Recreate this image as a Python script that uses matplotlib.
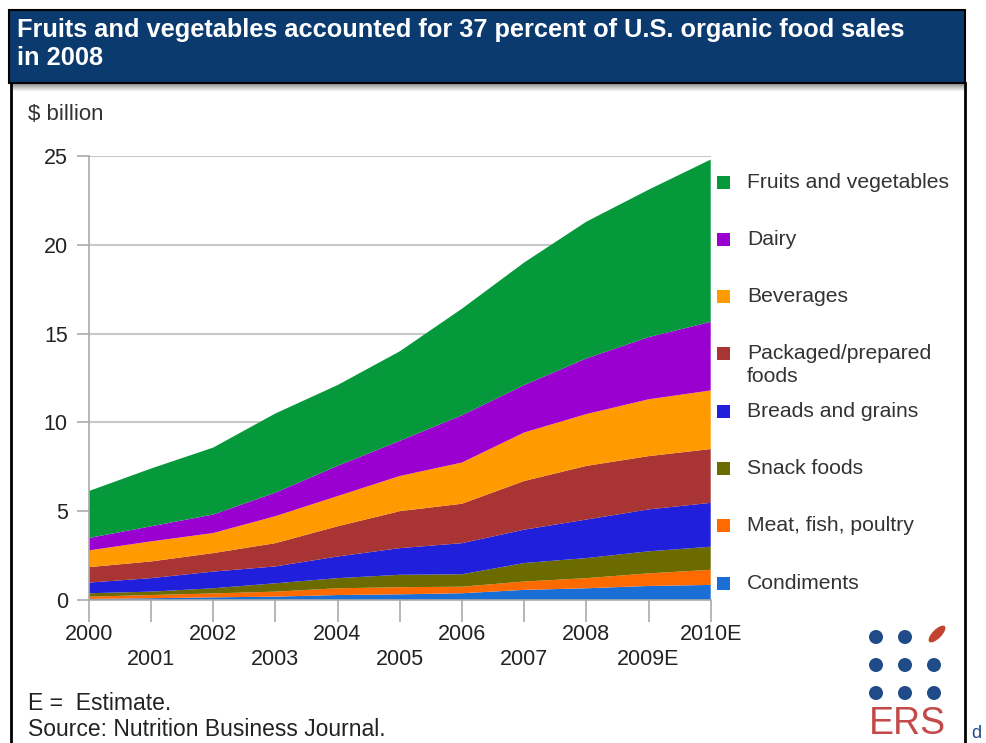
import matplotlib
matplotlib.use("Agg")
import matplotlib.pyplot as plt
from matplotlib.patches import Rectangle, Circle, Ellipse

plt.rcParams["font.family"] = ["Liberation Sans", "DejaVu Sans"]

# organic food sales, $ billion (stacked bottom to top)
years = [2000, 2001, 2002, 2003, 2004, 2005, 2006, 2007, 2008, 2009, 2010]
year_labels = ["2000", "2001", "2002", "2003", "2004", "2005",
               "2006", "2007", "2008", "2009E", "2010E"]

condiments = [0.06, 0.10, 0.15, 0.19, 0.28, 0.32, 0.38, 0.57, 0.66, 0.79, 0.85]
meat_fish_poultry = [0.13, 0.18, 0.22, 0.28, 0.38, 0.40, 0.37, 0.47, 0.57, 0.71, 0.85]
snack_foods = [0.19, 0.19, 0.29, 0.47, 0.57, 0.70, 0.70, 1.04, 1.13, 1.24, 1.30]
breads_grains = [0.60, 0.76, 0.94, 0.95, 1.22, 1.50, 1.75, 1.88, 2.17, 2.36, 2.47]
packaged_foods = [0.87, 0.94, 1.04, 1.31, 1.70, 2.08, 2.22, 2.74, 3.02, 3.00, 3.03]
beverages = [0.94, 1.13, 1.13, 1.52, 1.70, 1.98, 2.32, 2.73, 2.92, 3.20, 3.30]
dairy = [0.70, 0.85, 1.04, 1.32, 1.70, 1.98, 2.66, 2.67, 3.13, 3.50, 3.86]
fruits_vegetables = [2.64, 3.25, 3.77, 4.46, 4.55, 5.04, 6.00, 6.90, 7.70, 8.30, 9.14]

series = [condiments, meat_fish_poultry, snack_foods, breads_grains,
          packaged_foods, beverages, dairy, fruits_vegetables]
names = ["Condiments", "Meat, fish, poultry", "Snack foods", "Breads and grains",
         "Packaged/prepared\nfoods", "Beverages", "Dairy", "Fruits and vegetables"]
colors = ["#1a6fd6", "#ff6a00", "#6b6b00", "#2020dc",
          "#a83434", "#ff9a00", "#9a00d0", "#06993c"]

W, H = 987, 743
fig = plt.figure(figsize=(W / 100, H / 100), dpi=100)

# background layer in pixel coordinates
bg = fig.add_axes([0, 0, 1, 1])
bg.set_xlim(0, W)
bg.set_ylim(H, 0)
bg.axis("off")

bg.add_patch(Rectangle((9, 10), 956, 73, fc="#0b3a6f", ec="black", lw=1.5))
for i in range(8):
    bg.add_patch(Rectangle((11, 83 + i), 953, 1, fc="black", ec="none",
                           alpha=0.45 * (1 - i / 8)))
bg.plot([11, 11], [83, H], color="black", lw=2)
bg.plot([965, 965], [83, H], color="black", lw=2)

bg.text(17, 30, "Fruits and vegetables accounted for 37 percent of U.S. organic food sales",
        color="white", fontsize=18.3, fontweight="bold", va="center")
bg.text(17, 58, "in 2008", color="white", fontsize=18.3, fontweight="bold", va="center")
bg.text(28, 115, "$ billion", fontsize=16, color="#333333", va="center")

bg.text(28, 704, "E =  Estimate.", fontsize=16.5, color="#222222", va="center")
bg.text(28, 729, "Source: Nutrition Business Journal.", fontsize=16.5,
        color="#222222", va="center")

# legend, top entry first
for i, (name, col) in enumerate(zip(names[::-1], colors[::-1])):
    yc = 182 + 57.3 * i
    bg.add_patch(Rectangle((717, yc - 6.5), 13, 13, fc=col, ec="none"))
    for k, line in enumerate(name.split("\n")):
        bg.text(747, yc + 23 * k, line, fontsize=15.2, color="#333333", va="center")

# ERS logo
for r, yy in enumerate([637, 665, 693]):
    for c, xx in enumerate([876, 905, 934]):
        if r == 0 and c == 2:
            continue
        bg.add_patch(Circle((xx, yy), 7, fc="#1f4c88", ec="none"))
bg.add_patch(Ellipse((937, 634), 22, 9, angle=-45, fc="#c0432e", ec="none"))
bg.text(907, 724, "ERS", fontsize=27, color="#c44a4a", ha="center", va="center")
bg.text(971, 734, "d", fontsize=13, color="#1f4c88", va="center")

# main chart
ax = fig.add_axes([88.7 / W, 1 - 600 / H, (710.7 - 88.7) / W, (600 - 156) / H])
ax.stackplot(years, *series, colors=colors, linewidth=0)
ax.set_xlim(2000, 2010)
ax.set_ylim(0, 25)
ax.set_yticks([0, 5, 10, 15, 20, 25])
ax.yaxis.grid(True, color="#c8c8c8", lw=1.5)
ax.set_axisbelow(True)
ax.set_xticks(years)
ax.set_xticklabels([lab if i % 2 == 0 else "\n" + lab for i, lab in enumerate(year_labels)],
                   linespacing=1.25)
ax.tick_params(axis="x", length=16, width=1.2, color="#aaaaaa", pad=1,
               labelsize=15.5, labelcolor="#222222")
ax.tick_params(axis="y", length=9, width=1.2, color="#aaaaaa", pad=6,
               labelsize=15.5, labelcolor="#222222")
for side in ["top", "right"]:
    ax.spines[side].set_visible(False)
for side in ["left", "bottom"]:
    ax.spines[side].set_color("#aaaaaa")
    ax.spines[side].set_linewidth(1.2)

fig.savefig("out.png", dpi=100)
